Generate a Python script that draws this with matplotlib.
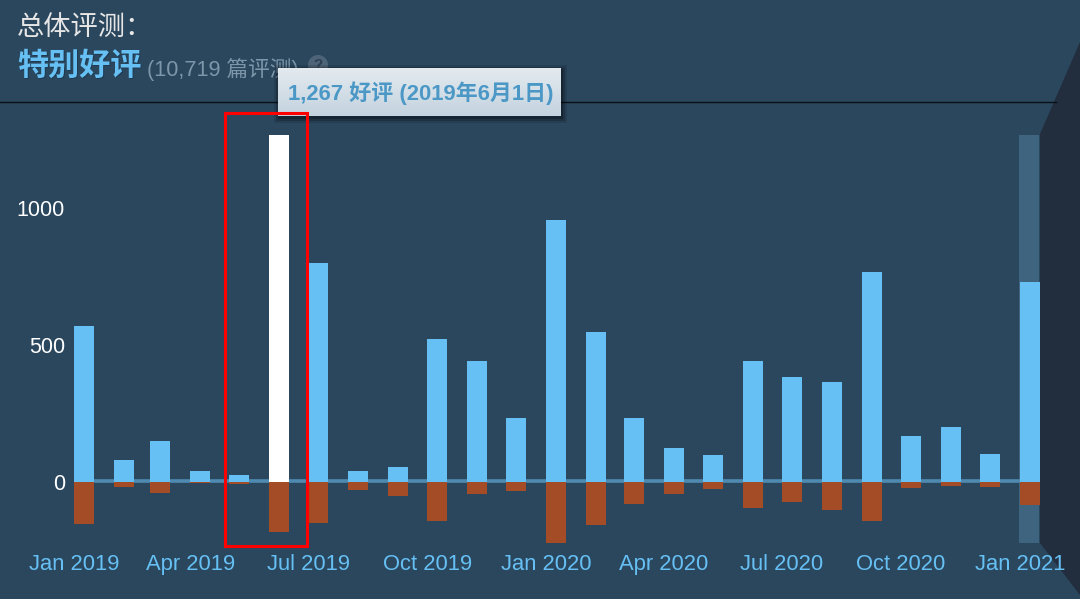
import datetime as dt
import numpy as np
import matplotlib
matplotlib.use('Agg')
import matplotlib.pyplot as plt
import matplotlib.dates as mdates
from matplotlib.patches import Polygon, Rectangle, Circle

plt.rcParams['font.family'] = ['Liberation Sans', 'Noto Sans CJK SC', 'DejaVu Sans']

W, H = 1080, 599

# one bar per month, Jan 2019 to Jan 2021
months = [dt.date(2019 + i // 12, i % 12 + 1, 1) for i in range(25)]
positive = [569, 80, 150, 40, 25, 1267, 800, 40, 55, 522, 442, 234, 956,
            547, 234, 124, 99, 442, 383, 365, 766, 168, 200, 102, 730]
negative = [153, 18, 40, 5, 8, 182, 150, 29, 51, 142, 44, 33, 223,
            157, 80, 44, 25, 95, 73, 102, 142, 22, 14, 18, 84]
highlight = dt.date(2019, 6, 1)
y_ticks = [0, 500, 1000]
x_ticks = [dt.date(2019, 1, 1), dt.date(2019, 4, 1), dt.date(2019, 7, 1),
           dt.date(2019, 10, 1), dt.date(2020, 1, 1), dt.date(2020, 4, 1),
           dt.date(2020, 7, 1), dt.date(2020, 10, 1), dt.date(2021, 1, 1)]
range_start = dt.date(2020, 12, 31)
range_end = dt.date(2021, 1, 16)

BG = '#2b475e'
BLUE = '#66c0f4'
RED = '#a34c25'

# scale of the plot area, in pixels
PX_DAY = 1.294
PX_UNIT = 0.274
X0, X1 = 74, 1040
Y_ZERO, Y_TOP, Y_BOT = 482, 130, 548


def fx(px):
    return px / W


def fy(py):
    return 1 - py / H


def pixel_axes(zorder):
    # axes over the whole figure, data coordinates = image pixels
    a = fig.add_axes([0, 0, 1, 1], facecolor='none', zorder=zorder)
    a.set_xlim(0, W)
    a.set_ylim(H, 0)
    a.axis('off')
    return a


fig = plt.figure(figsize=(W / 100, H / 100), dpi=100, facecolor=BG)

# dark side panel and header rule sit behind the chart
back = pixel_axes(-1)
back.plot([0, 1056], [102, 102], color='#0b1016', lw=1)
back.add_patch(Polygon([(1040, 134), (1080, 42), (1080, 595), (1040, 543)],
                       closed=True, fc='#222d3d', ec='none'))

ax = fig.add_axes([fx(X0), fy(Y_BOT), fx(X1 - X0), (Y_BOT - Y_TOP) / H], facecolor='none', zorder=1)

dates = mdates.date2num(months)
start = dates[0]
ax.set_xlim(start, start + (X1 - X0) / PX_DAY)
ax.set_ylim((Y_ZERO - Y_BOT) / PX_UNIT, (Y_ZERO - Y_TOP) / PX_UNIT)

bar_w = 20 / PX_DAY
ups = ['white' if m == highlight else BLUE for m in months]

# selected range behind the last bar
ax.bar(mdates.date2num(range_start), 1267 + 223, bottom=-223, width=(range_end - range_start).days,
       align='edge', color='#3f6480', zorder=1, clip_on=False)
ax.plot([start, start + (X1 - X0) / PX_DAY], [5, 5], color='#4f8bb0', lw=2.6,
        solid_capstyle='butt', zorder=2, clip_on=False)
ax.bar(dates, positive, width=bar_w, align='edge', color=ups, zorder=3, clip_on=False)
ax.bar(dates, [-v for v in negative], width=bar_w, align='edge', color=RED, zorder=3, clip_on=False)

for s in ax.spines.values():
    s.set_visible(False)
ax.set_yticks(y_ticks)
ax.set_xticks(mdates.date2num(x_ticks))
ax.xaxis.set_major_formatter(mdates.DateFormatter('%b %Y'))
ax.tick_params(axis='y', length=0, pad=6.5, labelsize=15.5, labelcolor='white')
ax.tick_params(axis='x', length=0, pad=4.5, labelsize=15.8, labelcolor=BLUE)

# header, red box and tooltip on top
deco = pixel_axes(5)
deco.add_patch(Rectangle((224.5, 112.5), 82.5, 433, fill=False, ec='#ff0000', lw=2.2, zorder=6))

deco.text(17, 28, '总体评测：', fontsize=19.6, color='#e6e6e6', va='center', ha='left')
deco.text(18, 68, '特别好评', fontsize=22.4, color='#1e3a52', fontweight='bold', va='center', ha='left')
deco.text(17, 67, '特别好评', fontsize=22.4, color=BLUE, fontweight='bold', va='center', ha='left')
deco.text(147, 70, '(10,719 篇评测)', fontsize=15.6, color='#7d96a9', va='center', ha='left')
deco.add_patch(Circle((318, 65), 10, fc='#4d6478', ec='none', zorder=2))
deco.text(318, 65, '?', fontsize=11, color='#2b3f50', fontweight='bold', va='center', ha='center', zorder=2)

# tooltip: soft shadow, then gradient box
for grow, alpha in zip([5, 3, 1], [0.12, 0.18, 0.25]):
    deco.add_patch(Rectangle((278 - grow + 1, 68 - grow + 2), 283 + 2 * grow, 48 + 2 * grow,
                             fc='black', ec='none', alpha=alpha, zorder=3))
grad = np.linspace(0, 1, 48)[:, None]
cols = np.array([0xe3, 0xea, 0xef]) * (1 - grad) + np.array([0xc4, 0xd3, 0xdf]) * grad
deco.imshow(cols[:, None, :] / 255, extent=(278, 561, 116, 68), aspect='auto', zorder=4)
deco.set_xlim(0, W)
deco.set_ylim(H, 0)
deco.text(288, 93, '1,267 好评 (2019年6月1日)', fontsize=15.8, color='#4b98c6', fontweight='bold',
          va='center', ha='left', zorder=5)

fig.savefig('out.png', dpi=100, facecolor=BG)
